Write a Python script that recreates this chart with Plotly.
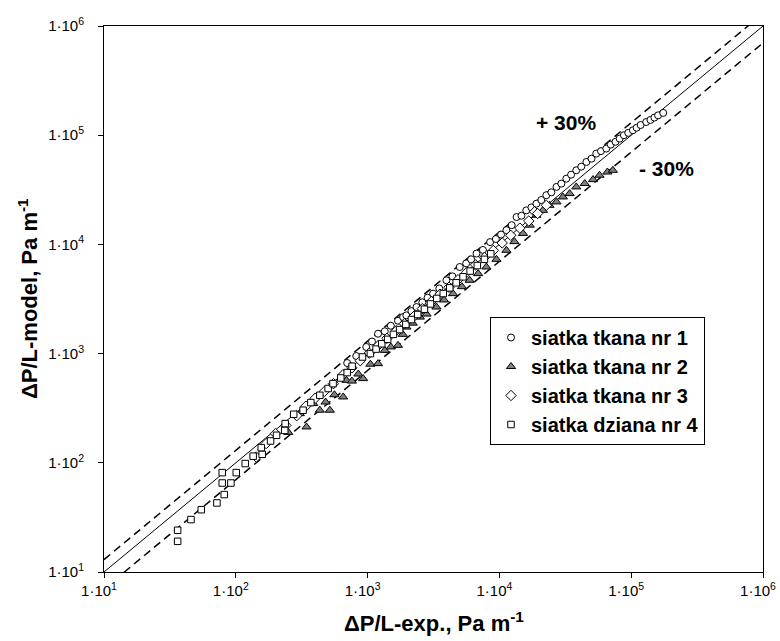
import plotly.graph_objects as go

# ---- data ----
s1_x = [700, 820, 977, 1080, 1200, 1350, 1500, 1700, 1860, 1970, 2150, 2350, 2600, 2850, 3140,
        3500, 3960, 4400, 5000, 5600, 6100, 6700, 7500, 8500, 9400, 10300, 11300, 12400, 13500,
        14700, 16000, 17500, 19100, 20800, 22700, 24800, 27100, 29500, 32200, 35000, 38300, 41800,
        45700, 50000, 54300, 59000, 64700, 70000, 76000, 81700, 88000, 95000, 103000, 110000,
        118000, 130000, 140000, 150000, 160000, 175000]
s1_y = [820, 950, 1150, 1290, 1520, 1600, 1800, 2000, 2160, 2240, 2450, 2670, 2950, 3250, 3540,
        3950, 4690, 5100, 6210, 6700, 7300, 8240, 8900, 10500, 11200, 12300, 13500, 15000, 17800,
        18300, 20500, 21800, 23600, 25500, 28200, 30000, 33600, 36000, 40000, 43500, 47700, 51500,
        56900, 61000, 67800, 71500, 75400, 82000, 87000, 93000, 100000, 105000, 111000, 117000,
        124000, 132000, 138000, 145000, 152000, 160000]

s2_x = [250, 306, 344, 387, 434, 480, 517, 560, 653, 692, 760, 850, 925, 1050, 1200, 1350, 1500,
        1700, 1850, 1970, 2200, 2490, 2800, 3330, 3800, 4450, 5200, 5950, 6900, 7960, 9500, 11300,
        13000, 15100, 17000, 19100, 21400, 24000, 27100, 30300, 34100, 38300, 44400, 51300, 57500,
        66000, 72600]
s2_y = [190, 282, 213, 349, 303, 360, 303, 420, 401, 569, 560, 650, 590, 800, 809, 1070, 1150,
        1190, 1500, 1750, 1900, 2160, 2300, 2670, 3100, 3540, 4100, 4690, 5400, 6210, 7300, 8830,
        10600, 12600, 15000, 18500, 20500, 22800, 24500, 27200, 29200, 33600, 36100, 39200, 43000,
        46000, 47700]

s3_x = [143, 170, 200, 240, 290, 340, 400, 470, 550, 650, 760, 880, 1030, 1200, 1400, 1650, 1900,
        2250, 2600, 3050, 3550, 4150, 4850, 5650, 6600, 7700, 9000, 10500, 12200, 14300, 16700,
        18500, 19500, 22700]
s3_y = [113, 150, 185, 220, 270, 330, 390, 450, 530, 640, 740, 860, 1010, 1180, 1380, 1620, 1880,
        2200, 2580, 3000, 3500, 4050, 4750, 5550, 6500, 7600, 8800, 10300, 12100, 14100, 16400,
        19900, 19200, 22800]

s4_x = [36.2, 36.2, 45.7, 54.7, 71.9, 81.7, 78.9, 78.9, 91.8, 100.8, 117.9, 135.4, 158.6, 155.9,
        183.6, 203.8, 235, 237, 275, 324, 371, 434, 502, 547, 626, 700, 763, 914, 1050, 1160, 1280,
        1420, 1570, 1750, 1950, 2150, 2400, 2700, 3000, 3350, 3750, 4200, 4700, 5300, 6000, 6800,
        7700, 8600]
s4_y = [19.1, 24.1, 30.2, 37.2, 42.9, 51.2, 65.3, 81.3, 65.3, 81.3, 98.4, 115, 119.6, 137.7,
        158.5, 178.6, 198, 228.6, 278, 303, 356, 415, 479, 531, 598, 670, 766, 931, 1000, 1100,
        1230, 1350, 1500, 1660, 1850, 2050, 2280, 2550, 2850, 3200, 3550, 4000, 4450, 5050, 5700,
        6400, 7300, 8200]

line_x = [10, 1e6]
factor_up = 1.3
factor_dn = 0.7

tick_vals = [10, 100, 1000, 10000, 100000, 1000000]
tick_text = ["1·10<sup>1</sup>", "1·10<sup>2</sup>", "1·10<sup>3</sup>",
             "1·10<sup>4</sup>", "1·10<sup>5</sup>", "1·10<sup>6</sup>"]

names = ["<b>siatka tkana nr 1</b>", "<b>siatka tkana nr 2</b>",
         "<b>siatka tkana nr 3</b>", "<b>siatka dziana nr 4</b>"]

FONT = "Liberation Sans, Arial, sans-serif"

fig = go.Figure()

# reference lines
fig.add_trace(go.Scatter(x=line_x, y=line_x, mode="lines",
                         line=dict(color="black", width=1), showlegend=False, hoverinfo="skip"))
fig.add_trace(go.Scatter(x=line_x, y=[v * factor_up for v in line_x], mode="lines",
                         line=dict(color="black", width=1.5, dash="8px,5px"),
                         showlegend=False, hoverinfo="skip"))
fig.add_trace(go.Scatter(x=line_x, y=[v * factor_dn for v in line_x], mode="lines",
                         line=dict(color="black", width=1.5, dash="8px,5px"),
                         showlegend=False, hoverinfo="skip"))

mk_line = dict(color="black", width=1)
fig.add_trace(go.Scatter(x=s1_x, y=s1_y, mode="markers", name=names[0], legendgroup="a",
                         marker=dict(symbol="circle", size=7, color="white", line=mk_line)))
fig.add_trace(go.Scatter(x=s2_x, y=s2_y, mode="markers", name=names[1], legendgroup="b",
                         marker=dict(symbol="triangle-up", size=8, color="#7f7f7f", line=mk_line)))
fig.add_trace(go.Scatter(x=s3_x, y=s3_y, mode="markers", name=names[2], legendgroup="c",
                         marker=dict(symbol="diamond", size=8, color="white", line=mk_line)))
fig.add_trace(go.Scatter(x=s4_x, y=s4_y, mode="markers", name=names[3], legendgroup="d",
                         marker=dict(symbol="square", size=6.5, color="white", line=mk_line)))

axis_common = dict(type="log", range=[1, 6], tickvals=tick_vals, ticktext=tick_text,
                   showline=True, linecolor="black", linewidth=1, mirror=True,
                   ticks="outside", ticklen=5, tickcolor="black", showgrid=False,
                   zeroline=False, automargin=False, ticklabeloverflow="allow",
                   tickfont=dict(family=FONT, size=15, color="black"))

fig.update_layout(
    width=780, height=641,
    margin=dict(l=104, r=17, t=26, b=69),
    paper_bgcolor="white", plot_bgcolor="white",
    xaxis=dict(axis_common, ticklabelshift=-5),
    yaxis=dict(axis_common, ticklabelstandoff=11),
    showlegend=True,
    legend=dict(x=(490 - 104) / 659, y=(572 - 317) / 546, xanchor="left", yanchor="top",
                bgcolor="white", bordercolor="black", borderwidth=1,
                font=dict(family=FONT, size=20, color="black"),
                traceorder="grouped", tracegroupgap=0),
    annotations=[
        dict(text="<b>ΔP/L-exp., Pa m<sup>-1</sup></b>", xref="paper", yref="paper",
             x=0.5, y=0, yshift=-34, xanchor="center", yanchor="top", showarrow=False,
             font=dict(family=FONT, size=22, color="black")),
        dict(text="<b>ΔP/L-model, Pa m<sup>-1</sup></b>", xref="paper", yref="paper",
             x=0, y=0.5, xshift=-60, xanchor="right", yanchor="middle", textangle=-90,
             showarrow=False, font=dict(family=FONT, size=22, color="black")),
        dict(text="<b>+ 30%</b>", xref="x", yref="y", x=4.503, y=5.118, xanchor="center",
             yanchor="middle", showarrow=False, font=dict(family=FONT, size=21, color="black")),
        dict(text="<b>- 30%</b>", xref="x", yref="y", x=5.268, y=4.697, xanchor="center",
             yanchor="middle", showarrow=False, font=dict(family=FONT, size=21, color="black")),
    ],
)

fig.write_html("out.html", config={"displayModeBar": False},
               post_script="document.body.style.margin='0';document.body.style.padding='0';")
